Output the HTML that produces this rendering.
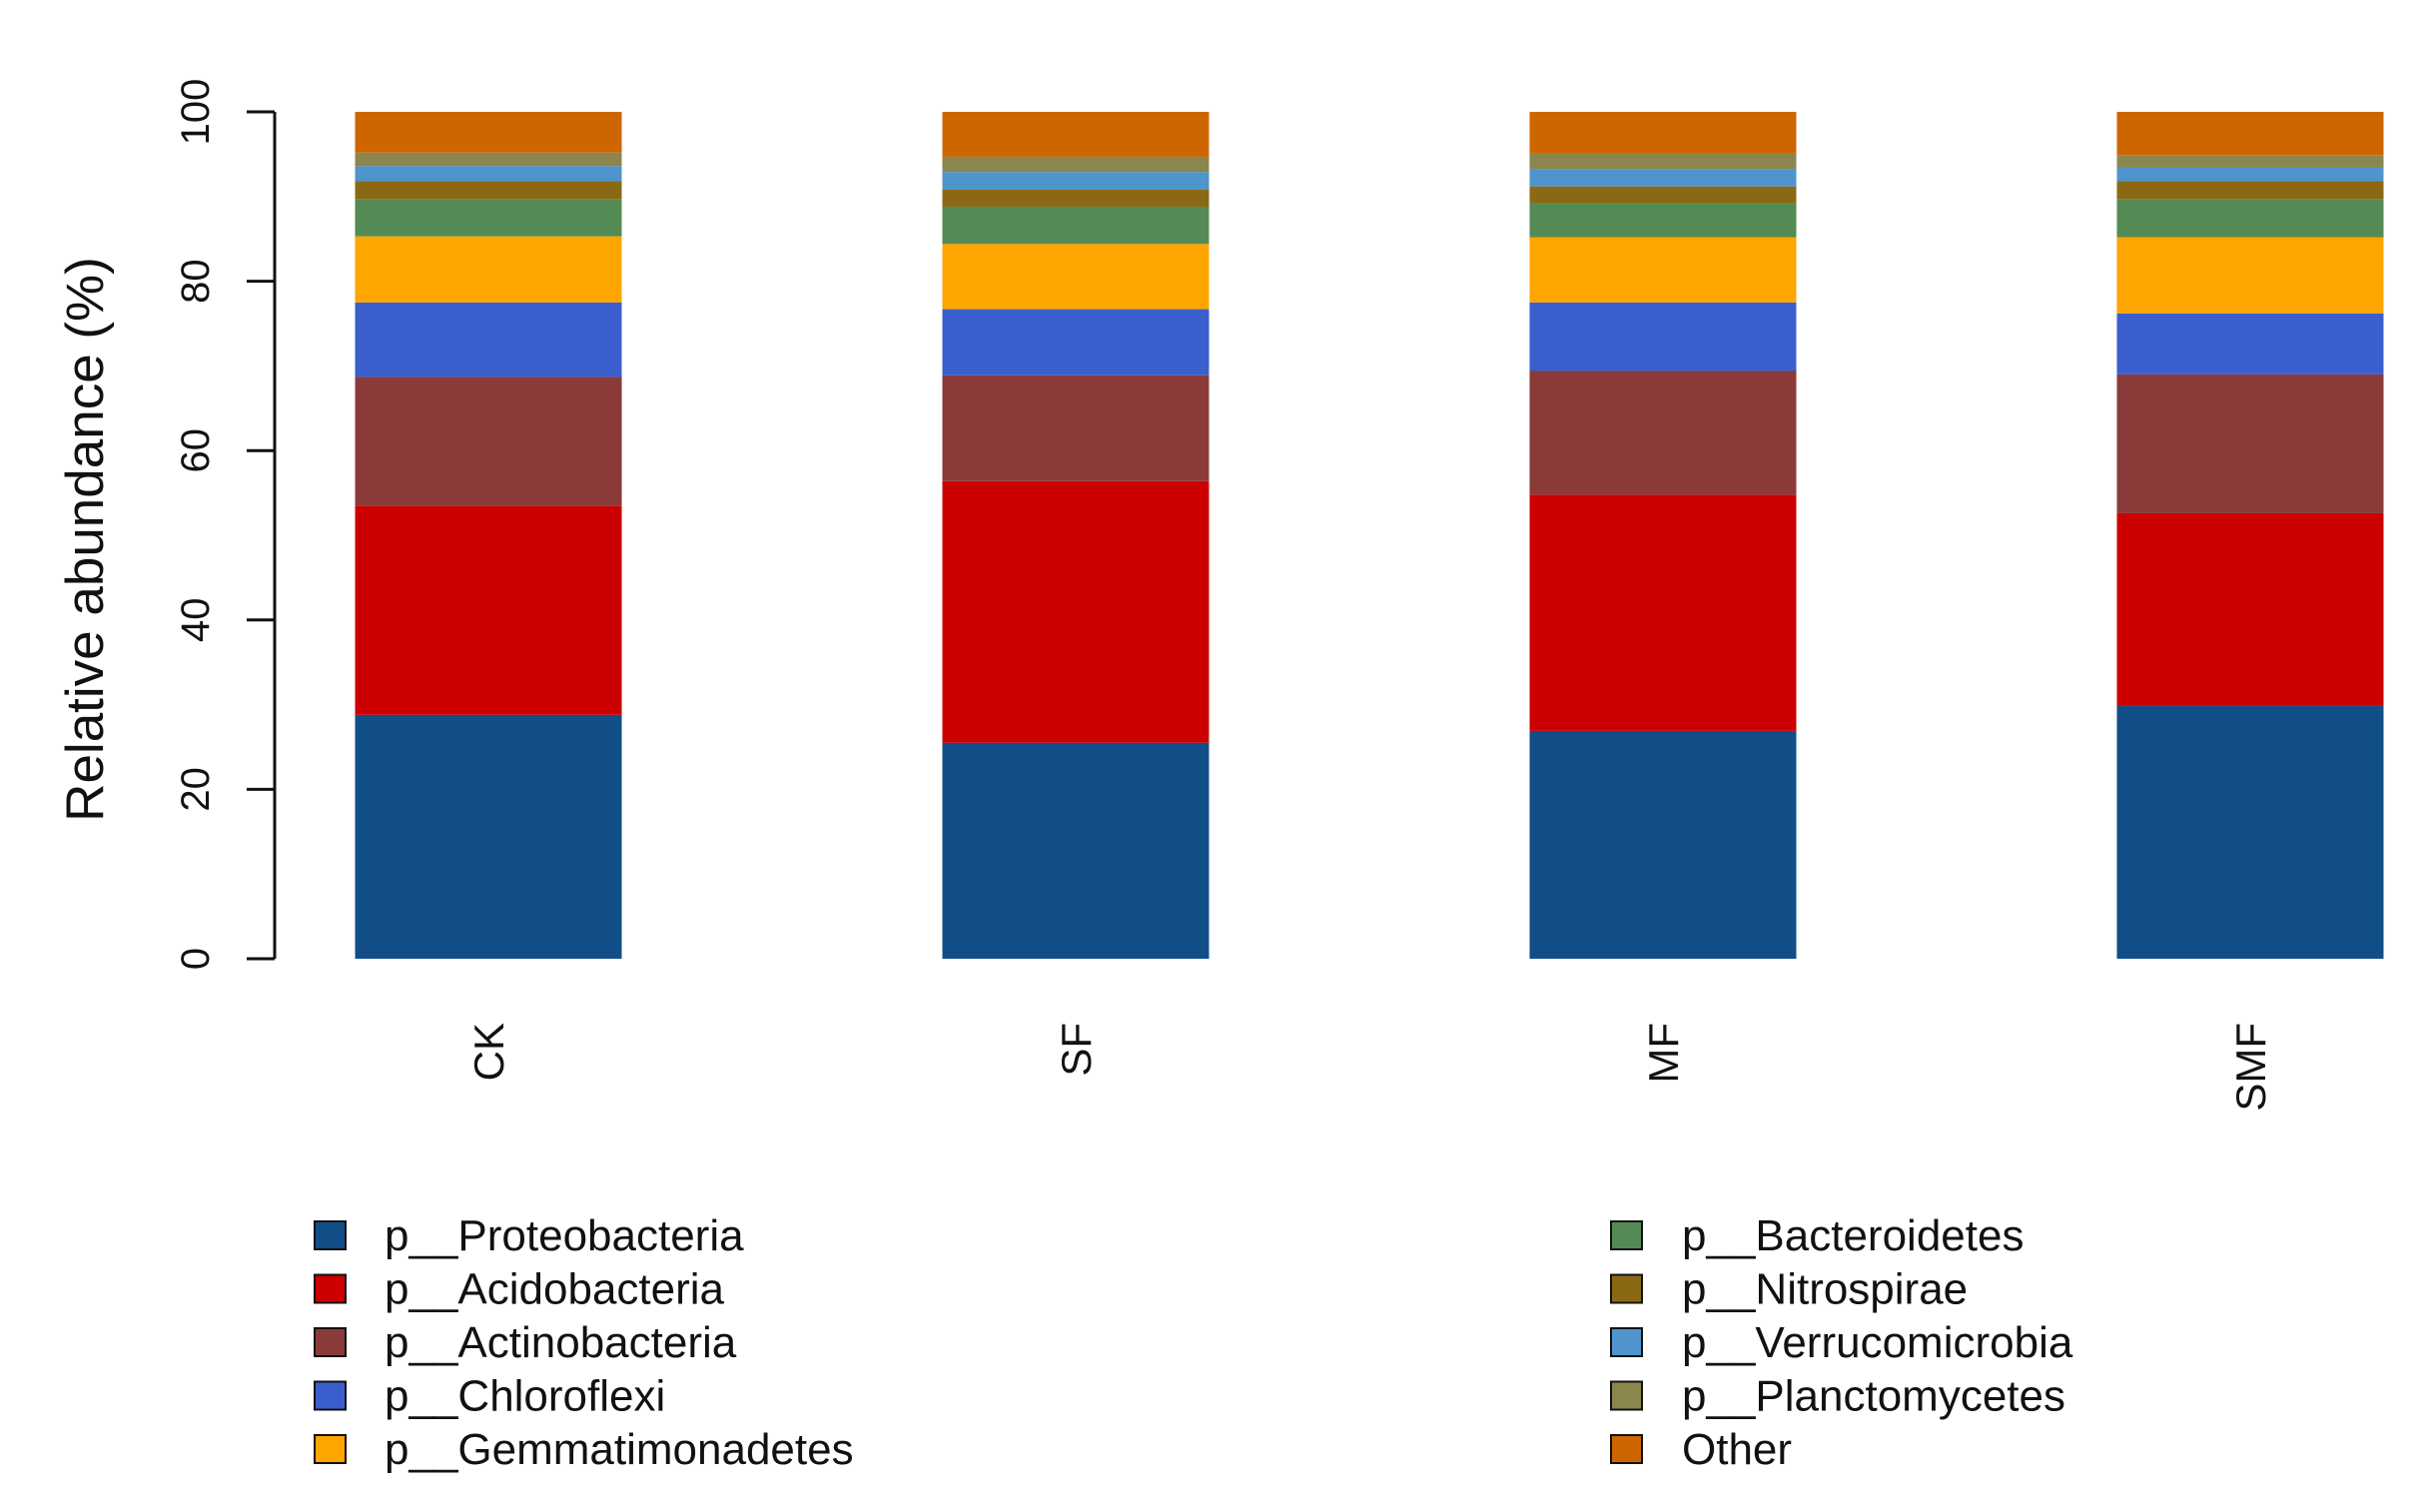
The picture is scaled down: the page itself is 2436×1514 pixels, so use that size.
<!DOCTYPE html>
<html><head><meta charset="utf-8"><style>
html,body{margin:0;padding:0;background:#fff;}
svg{display:block;font-family:"Liberation Sans",sans-serif;}
</style></head><body>
<svg id="chart" width="2436" height="1514" viewBox="0 0 2436 1514" xmlns="http://www.w3.org/2000/svg">
<g id="axis"></g>
<g id="bars"></g>
<g id="xlabels"></g>
<text transform="translate(103,540) rotate(-90)" text-anchor="middle" font-size="53" fill="#111">Relative abundance (%)</text>
<g id="legend"></g>
</svg>
<script>
const categories = ["CK","SF","MF","SMF"];
const seriesNames = ["p__Proteobacteria","p__Acidobacteria","p__Actinobacteria","p__Chloroflexi","p__Gemmatimonadetes","p__Bacteroidetes","p__Nitrospirae","p__Verrucomicrobia","p__Planctomycetes","Other"];
const proteobacteria = [28.8,25.5,26.9,29.9];
const acidobacteria = [24.7,30.9,27.9,22.7];
const actinobacteria = [15.2,12.5,14.6,16.4];
const chloroflexi = [8.8,7.8,8.1,7.2];
const gemmatimonadetes = [7.8,7.7,7.7,9.0];
const bacteroidetes = [4.4,4.4,4.0,4.5];
const nitrospirae = [2.1,2.0,2.0,2.1];
const verrucomicrobia = [1.8,2.1,2.0,1.6];
const planctomycetes = [1.6,1.8,1.9,1.5];
const other = [4.8,5.3,4.9,5.1];
const yTicks = [0,20,40,60,80,100];

const series = [proteobacteria,acidobacteria,actinobacteria,chloroflexi,gemmatimonadetes,bacteroidetes,nitrospirae,verrucomicrobia,planctomycetes,other];
const colors = ["#114e88","#cc0000","#8b3a3a","#3a5fcd","#ffa500","#548b54","#8b6914","#4f94cd","#8b864e","#cd6600"];
const NS="http://www.w3.org/2000/svg";
const y0=960, y100=112;
function yScale(v){return y0-(y0-y100)*v/100;}
const barW=267;
function xCenter(i){return 489+i*588;}
function mk(tag,attrs,parent){const e=document.createElementNS(NS,tag);for(const k in attrs)e.setAttribute(k,attrs[k]);parent.appendChild(e);return e;}

const axis=document.getElementById('axis');
const al=mk('line',{x1:275,x2:275,y1:yScale(0),y2:yScale(100),stroke:'#111','stroke-width':3},axis);


yTicks.forEach(t=>{
  const l=mk('line',{x1:247,x2:275,y1:yScale(t),y2:yScale(t),stroke:'#111','stroke-width':3},axis);
  
  
  const tx=mk('text',{transform:`translate(209,${yScale(t)}) rotate(-90)`,'text-anchor':'middle','font-size':40,fill:'#111'},axis);
  
  
  tx.textContent=t;
});

const bars=document.getElementById('bars');
const xl=document.getElementById('xlabels');
categories.forEach((c,i)=>{
  let cum=0;
  series.forEach((s,j)=>{
    const top=cum+s[i];
    const r=mk('rect',{x:xCenter(i)-barW/2,y:yScale(top),width:barW,height:yScale(cum)-yScale(top),fill:colors[j]},bars);
    
    
    cum=top;
  });
  const t=mk('text',{transform:`translate(${xCenter(i)+15},1024) rotate(-90)`,'text-anchor':'end','font-size':42,fill:'#111'},xl);
  
  
  t.textContent=c;
});

const legend=document.getElementById('legend');
seriesNames.forEach((n,j)=>{
  const col=Math.floor(j/5), row=j%5;
  const sx=col?1613:315, tx=col?1684:385, cy=1237+row*53.5;
  const r=mk('rect',{x:sx,y:cy-14,width:31,height:28,fill:colors[j],stroke:'#111','stroke-width':2},legend);
  
  
  const t=mk('text',{x:tx,y:cy+15,'font-size':44,fill:'#111'},legend);
  
  
  t.textContent=n;
});
</script>
</body></html>
